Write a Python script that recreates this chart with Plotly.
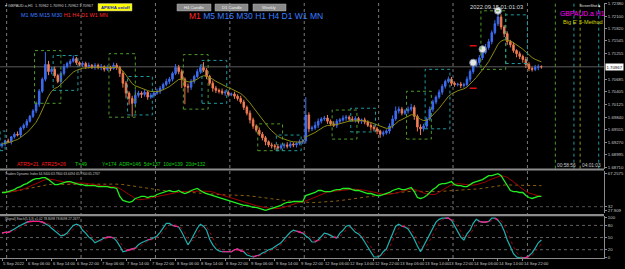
import plotly.graph_objects as go
import pandas as pd

# ---------------- data ----------------
time_labels = ["5 Sep 2022", "6 Sep 06:00", "6 Sep 14:00", "6 Sep 22:00", "7 Sep 06:00", "7 Sep 14:00",
               "7 Sep 22:00", "8 Sep 06:00", "8 Sep 14:00", "8 Sep 22:00", "9 Sep 06:00", "9 Sep 14:00",
               "9 Sep 22:00", "12 Sep 06:00", "12 Sep 14:00", "12 Sep 22:00", "13 Sep 06:00", "13 Sep 14:00",
               "13 Sep 22:00", "14 Sep 06:00", "14 Sep 14:00", "14 Sep 22:00"]
label_bars = [0, 8, 16, 24, 32, 40, 48, 56, 64, 72, 80, 88, 96, 104, 112, 120, 128, 136, 144, 152, 160, 168]
day_starts = [2, 26, 50, 74, 98, 122, 146, 170]

first_open = 1.6920
closes = [
    1.6924, 1.6931, 1.6929, 1.6940, 1.6946, 1.6944, 1.6960, 1.6966, 1.6975, 1.6986,
    1.6998, 1.7013, 1.7042, 1.7069, 1.7102, 1.7086, 1.7091, 1.7077, 1.7064, 1.7082,
    1.7097, 1.7104, 1.7109, 1.7115, 1.7106, 1.7102, 1.7104, 1.7097, 1.7100, 1.7095,
    1.7100, 1.7095, 1.7097, 1.7091, 1.7095, 1.7093, 1.7100, 1.7095, 1.7082, 1.7060,
    1.7038, 1.7026, 1.7015, 1.7033, 1.7038, 1.7035, 1.7040, 1.7029, 1.7033, 1.7038,
    1.7042, 1.7049, 1.7057, 1.7064, 1.7069, 1.7082, 1.7095, 1.7086, 1.7069, 1.7053,
    1.7051, 1.7064, 1.7075, 1.7086, 1.7095, 1.7089, 1.7075, 1.7060, 1.7049, 1.7044,
    1.7042, 1.7038, 1.7040, 1.7035, 1.7036, 1.7031, 1.7026, 1.7018, 1.7006, 1.6993,
    1.6978, 1.6964, 1.6955, 1.6946, 1.6938, 1.6929, 1.6922, 1.6920, 1.6918, 1.6915,
    1.6920, 1.6922, 1.6919, 1.6924, 1.6922, 1.6925, 1.6929, 1.6931, 1.6989, 1.6958,
    1.6960, 1.6966, 1.6975, 1.6980, 1.6982, 1.6975, 1.6969, 1.6966, 1.6975, 1.6978,
    1.6982, 1.6984, 1.6980, 1.6978, 1.6981, 1.6975, 1.6978, 1.6973, 1.6966, 1.6962,
    1.6958, 1.6953, 1.6946, 1.6949, 1.6953, 1.6964, 1.6980, 1.6998, 1.7002, 1.6993,
    1.6998, 1.7002, 1.7006, 1.6986, 1.6962, 1.6958, 1.6964, 1.6980, 1.7002, 1.7018,
    1.7029, 1.7040, 1.7053, 1.7064, 1.7069, 1.7060, 1.7057, 1.7058, 1.7055, 1.7057,
    1.7069, 1.7086, 1.7100, 1.7106, 1.7117, 1.7129, 1.7140, 1.7153, 1.7173, 1.7193,
    1.7208, 1.7186, 1.7171, 1.7153, 1.7146, 1.7133, 1.7126, 1.7120, 1.7113, 1.7102,
    1.7093, 1.7091, 1.7095, 1.7097, 1.70967,
]
# upper / lower wick lengths in pips
wick_up = [
    4, 3, 5, 2, 4, 6, 3, 4, 5, 3,
    4, 6, 5, 4, 28, 8, 5, 6, 4, 5,
    6, 4, 5, 7, 4, 3, 5, 4, 6, 3,
    5, 4, 6, 3, 5, 4, 6, 5, 4, 6,
    5, 4, 6, 12, 5, 4, 6, 3, 5, 4,
    6, 5, 4, 6, 5, 4, 8, 6, 5, 4,
    6, 5, 4, 6, 7, 12, 5, 4, 6, 5,
    4, 6, 5, 4, 3, 5, 4, 6, 5, 4,
    6, 5, 4, 6, 5, 4, 3, 5, 4, 6,
    5, 4, 6, 5, 4, 3, 5, 4, 40, 6,
    5, 8, 6, 4, 5, 7, 4, 6, 5, 4,
    6, 5, 4, 6, 5, 4, 3, 5, 4, 6,
    5, 4, 3, 5, 4, 6, 8, 10, 6, 5,
    4, 6, 8, 5, 4, 6, 5, 4, 6, 5,
    4, 6, 5, 4, 6, 5, 4, 3, 5, 4,
    6, 5, 6, 8, 6, 7, 8, 6, 5, 8,
    14, 6, 4, 5, 4, 6, 3, 5, 4, 6,
    5, 4, 6, 5, 3,
]
wick_dn = [
    5, 4, 3, 6, 4, 3, 5, 4, 6, 3,
    4, 5, 6, 4, 5, 8, 6, 5, 4, 6,
    5, 4, 6, 3, 5, 4, 6, 5, 4, 3,
    5, 4, 6, 5, 4, 6, 3, 5, 8, 10,
    12, 14, 30, 6, 5, 8, 5, 6, 4, 5,
    4, 6, 5, 4, 6, 5, 4, 6, 20, 40,
    12, 6, 5, 4, 5, 4, 6, 5, 8, 6,
    5, 4, 6, 5, 4, 6, 5, 4, 6, 5,
    8, 6, 5, 4, 6, 8, 5, 6, 7, 5,
    4, 6, 5, 4, 5, 6, 4, 5, 6, 8,
    5, 4, 6, 5, 4, 6, 5, 4, 6, 5,
    4, 6, 5, 4, 6, 5, 6, 5, 4, 8,
    6, 7, 8, 5, 4, 6, 5, 4, 6, 5,
    4, 6, 5, 8, 10, 14, 6, 5, 4, 6,
    5, 4, 6, 5, 4, 6, 5, 4, 6, 5,
    4, 6, 5, 4, 6, 5, 4, 5, 6, 4,
    5, 6, 8, 7, 6, 5, 8, 6, 7, 8,
    6, 5, 4, 6, 4,
]

tdi_rsi = [
    47.0, 47.0, 48.0, 49.1, 50.1, 52.2, 53.2, 55.3, 56.4, 58.5,
    60.6, 61.6, 61.6, 62.7, 62.7, 60.6, 57.4, 55.3, 55.3, 56.4,
    57.4, 58.5, 58.5, 57.4, 56.4, 55.3, 55.3, 54.3, 54.3, 54.3,
    54.3, 53.2, 53.2, 53.2, 53.2, 52.2, 52.2, 51.2, 42.8, 38.6,
    37.5, 36.5, 37.5, 40.7, 41.7, 42.8, 42.8, 41.7, 42.8, 42.8,
    44.9, 45.9, 47.0, 48.0, 49.1, 48.0, 48.0, 49.1, 47.0, 45.9,
    47.0, 49.1, 50.1, 51.2, 49.1, 47.0, 45.9, 44.9, 43.8, 42.8,
    41.7, 40.7, 39.6, 38.6, 37.5, 36.5, 35.4, 34.4, 33.4, 33.4,
    32.3, 31.3, 31.3, 30.2, 29.2, 28.1, 29.2, 30.2, 31.3, 32.3,
    33.4, 35.4, 36.5, 36.5, 37.5, 37.5, 37.5, 37.5, 43.8, 44.9,
    45.9, 47.0, 49.1, 49.1, 48.0, 48.0, 48.0, 49.1, 50.1, 50.1,
    51.2, 51.2, 51.2, 50.1, 49.1, 49.1, 48.0, 47.0, 45.9, 45.9,
    44.9, 43.8, 43.8, 44.9, 45.9, 47.0, 49.1, 50.1, 51.2, 50.1,
    50.1, 51.2, 52.2, 48.0, 41.7, 40.7, 41.7, 43.8, 47.0, 50.1,
    52.2, 55.3, 56.4, 56.4, 57.4, 58.5, 55.3, 54.3, 54.3, 53.2,
    53.2, 55.3, 57.4, 58.5, 59.5, 60.6, 62.7, 64.8, 64.8, 65.8,
    66.9, 64.8, 59.5, 54.3, 49.1, 48.0, 48.0, 47.0, 47.0, 43.8,
    41.7, 40.7, 41.7, 42.8, 42.8,
]

stoch_k = [
    61, 63, 63, 66, 71, 76, 80, 85, 88, 90,
    90, 90, 90, 88, 85, 80, 73, 66, 59, 54,
    56, 61, 71, 80, 83, 80, 68, 61, 51, 46,
    37, 41, 46, 49, 51, 51, 49, 41, 29, 15,
    17, 20, 22, 24, 32, 37, 41, 44, 46, 51,
    54, 63, 73, 85, 85, 80, 78, 76, 63, 46,
    32, 44, 59, 73, 83, 78, 68, 46, 32, 22,
    17, 15, 15, 15, 15, 20, 22, 17, 15, 7,
    5, 2, 5, 7, 12, 15, 20, 22, 27, 32,
    37, 46, 56, 63, 68, 66, 63, 61, 54, 49,
    39, 39, 44, 54, 61, 59, 54, 51, 49, 61,
    68, 78, 80, 71, 63, 59, 51, 39, 27, 15,
    2, 2, 5, 15, 22, 41, 61, 78, 83, 78,
    76, 71, 59, 46, 29, 15, 29, 44, 56, 71,
    88, 95, 98, 98, 98, 93, 78, 63, 51, 44,
    59, 68, 85, 95, 90, 88, 88, 90, 98, 98,
    93, 83, 66, 44, 27, 10, 2, 0, 0, 0,
    5, 12, 24, 37, 44,
]

price_ticks = [1.72380, 1.72100, 1.71820, 1.71545, 1.71255, 1.70685, 1.70405,
               1.70125, 1.69840, 1.69555, 1.69270, 1.68995, 1.68710]
last_price = 1.70967
tdi_ticks = [67.2575, 32.0, 27.909]
tdi_level = 32.0
stoch_ticks = [100, 80, 50, 20, 0]
stoch_levels = [80, 50, 20]

# session boxes (bar index range, price range)
london_start = [10.5, 34.5, 58.5, 82.5, 106.5, 130.5, 154.5]
london_end = [19.0, 43.0, 66.5, 90.5, 114.5, 138.5, 162.5]
london_high = [1.7133, 1.7126, 1.7124, 1.6969, 1.7000, 1.7042, 1.7222]
london_low = [1.7015, 1.6984, 1.7002, 1.6909, 1.6935, 1.6935, 1.7091]
ny_start = [-0.6, 16.5, 40.5, 64.5, 88.5, 112.5, 136.5, 162.5]
ny_end = [1.0, 24.5, 48.5, 72.5, 96.5, 120.5, 144.5, 169.5]
ny_high = [1.6953, 1.7122, 1.7075, 1.7111, 1.6944, 1.7004, 1.7091, 1.7213]
ny_low = [1.6909, 1.7044, 1.6989, 1.7015, 1.6909, 1.6951, 1.6958, 1.7104]
next_session_bars = [178.5, 184.5, 186.5, 192.5]
next_session_colors = ["#4f9a2a", "#1f9aa0", "#9a9a10", "#1f9aa0"]

peak_bars = [152, 155, 160]
signal_bars = [152, 152]
signal_prices = [1.7144, 1.7049]

# ---------------- geometry ----------------
W, H = 625, 269
ML, MR, MT, MB = 0, 21, 0, 11
PW, PH = W - ML - MR, H - MT - MB
FONT = "Liberation Sans"
XR = [-0.645, 194.2]


def fx(x):
    return x / PW


def fy(y):
    return 1 - y / PH


# ---------------- derived series ----------------
n = len(closes)
bars = list(range(n))
opens = [first_open] + closes[:-1]
highs = [max(o, c) + u * 0.0001 for o, c, u in zip(opens, closes, wick_up)]
lows = [min(o, c) - d * 0.0001 for o, c, d in zip(opens, closes, wick_dn)]
ma = pd.Series(closes).ewm(span=10, adjust=False).mean().tolist()
tdi_s = pd.Series(tdi_rsi)
tdi_sig = tdi_s.rolling(7, min_periods=1).mean().tolist()
tdi_base = tdi_s.rolling(34, min_periods=1).mean().tolist()
k_s = pd.Series(stoch_k, dtype=float)
stoch_d = k_s.rolling(3, min_periods=1).mean().tolist()
pink = [k if abs(k - d) < 4 else None for k, d in zip(stoch_k, stoch_d)]

fig = go.Figure()

fig.add_trace(go.Candlestick(
    x=bars, open=opens, high=highs, low=lows, close=closes,
    increasing=dict(line=dict(color="#3d6cf0", width=1), fillcolor="#3d6cf0"),
    decreasing=dict(line=dict(color="#f07a50", width=1), fillcolor="#f58a62"),
    whiskerwidth=0, showlegend=False, hoverinfo="skip", xaxis="x", yaxis="y"))
fig.add_trace(go.Scatter(x=bars, y=ma, mode="lines", line=dict(color="#8c8a10", width=1),
                         showlegend=False, hoverinfo="skip", xaxis="x", yaxis="y"))
fig.add_trace(go.Scatter(x=peak_bars, y=[highs[i] for i in peak_bars], mode="markers",
                         marker=dict(symbol="circle", size=7, color="#e6e6e6",
                                     line=dict(color="#7a8aa0", width=1)),
                         showlegend=False, hoverinfo="skip", xaxis="x", yaxis="y"))
fig.add_trace(go.Scatter(x=signal_bars, y=signal_prices, mode="markers",
                         marker=dict(symbol="line-ew", size=5, line=dict(color="#e01010", width=1.5)),
                         showlegend=False, hoverinfo="skip", xaxis="x", yaxis="y"))

# TDI
fig.add_trace(go.Scatter(x=bars, y=tdi_base, mode="lines", line=dict(color="#8a6010", width=1, dash="dot"),
                         showlegend=False, hoverinfo="skip", xaxis="x2", yaxis="y2"))
fig.add_trace(go.Scatter(x=bars, y=tdi_sig, mode="lines", line=dict(color="#a00000", width=1),
                         showlegend=False, hoverinfo="skip", xaxis="x2", yaxis="y2"))
fig.add_trace(go.Scatter(x=bars, y=tdi_rsi, mode="lines", line=dict(color="#22ee22", width=1.3),
                         showlegend=False, hoverinfo="skip", xaxis="x2", yaxis="y2"))

# Stochastic
fig.add_trace(go.Scatter(x=bars, y=stoch_d, mode="lines", line=dict(color="#9a0010", width=1, dash="dot"),
                         showlegend=False, hoverinfo="skip", xaxis="x3", yaxis="y3"))
fig.add_trace(go.Scatter(x=bars, y=stoch_k, mode="lines", line=dict(color="#20b0b0", width=1.2),
                         showlegend=False, hoverinfo="skip", xaxis="x3", yaxis="y3"))
fig.add_trace(go.Scatter(x=bars, y=pink, mode="lines", line=dict(color="#ff1a8c", width=1.2),
                         connectgaps=False, showlegend=False, hoverinfo="skip", xaxis="x3", yaxis="y3"))

shapes = []
for d in day_starts:
    shapes.append(dict(type="line", xref="x", yref="paper", x0=d - 0.5, x1=d - 0.5, y0=0, y1=1,
                       line=dict(color="#7a7a7a", width=1, dash="dot"), layer="below"))
for s, e, hi, lo in zip(london_start, london_end, london_high, london_low):
    shapes.append(dict(type="rect", xref="x", yref="y", x0=s, x1=e, y0=lo, y1=hi,
                       line=dict(color="#4f9a2a", width=1, dash="dot")))
for s, e, hi, lo in zip(ny_start, ny_end, ny_high, ny_low):
    shapes.append(dict(type="rect", xref="x", yref="y", x0=s, x1=e, y0=lo, y1=hi,
                       line=dict(color="#1f9aa0", width=1, dash="dot")))
for b, c in zip(next_session_bars, next_session_colors):
    shapes.append(dict(type="line", xref="x", yref="paper", x0=b, x1=b, y0=fy(168), y1=1,
                       line=dict(color=c, width=1, dash="dot")))
shapes.append(dict(type="line", xref="paper", yref="y", x0=0, x1=1, y0=last_price, y1=last_price,
                   line=dict(color="#5a5a5a", width=1), layer="below"))
shapes.append(dict(type="line", xref="paper", yref="y2", x0=0, x1=1, y0=tdi_level, y1=tdi_level,
                   line=dict(color="#505050", width=1, dash="dot"), layer="below"))
for lv in stoch_levels:
    shapes.append(dict(type="line", xref="paper", yref="y3", x0=0, x1=1, y0=lv, y1=lv,
                       line=dict(color="#606060", width=1, dash="dot"), layer="below"))
# panel separators
for y0, y1 in [(167.8, 169.8), (213.6, 216.0)]:
    shapes.append(dict(type="rect", xref="paper", yref="paper", x0=0, x1=1, y0=fy(y1), y1=fy(y0),
                       fillcolor="#8c8c8c", line=dict(width=0)))

annotations = []


def txt(x, y, s, size, color, anchor="left", **kw):
    annotations.append(dict(xref="paper", yref="paper", x=fx(x), y=fy(y), text=s, showarrow=False,
                            xanchor=anchor, yanchor="middle", font=dict(size=size, color=color, family=FONT),
                            **kw))


def button(x0, y0, x1, y1, label, fill, color, size):
    shapes.append(dict(type="rect", xref="paper", yref="paper", x0=fx(x0), x1=fx(x1), y0=fy(y1), y1=fy(y0),
                       fillcolor=fill, line=dict(color="#b0b0b0", width=0.5)))
    txt((x0 + x1) / 2, (y0 + y1) / 2, label, size, color, anchor="center")


button(177, 2, 211, 9, "H4 Candle", "#8a8a8a", "#f0f0f0", 4.2)
button(215, 2, 248, 9, "D1 Candle", "#8a8a8a", "#f0f0f0", 4.2)
button(253, 2, 286, 9, "Weekly", "#8a8a8a", "#f0f0f0", 4.2)
button(98, 1.5, 132, 9, "<b>AP8/HA on/off</b>", "#ffff00", "#1020c0", 4.3)

txt(3, 4.5, "▾ GBPAUD.a,H1  1.70962 1.70990 1.70962 1.70967", 3.8, "#cfcfcf")
txt(19, 13.5, '<span style="color:#3a7dff">M1 M5 M15 M30</span> '
              '<span style="color:#ff2a2a">H1 H4 D1 W1 MN</span>', 5.5, "#3a7dff")
txt(187, 14, '<span style="color:#ff2a2a">M1</span> '
             '<span style="color:#3a7dff">M5 M15 M30 H1 H4 D1 W1 MN</span>', 8.5, "#3a7dff")
txt(468, 5, "2022.09.15 01:01:03", 5.8, "#dcdcdc")
txt(578, 4, "ScreenShot ◆", 3.3, "#e0e0e0")
txt(558, 12, "GBPAUD.a H1", 6.8, "#ff00ff")
txt(561, 20.5, "Big E' 5-Method", 5.6, "#d4d400")
txt(15, 163.5, "ATR5=21  ATR25=26", 5.2, "#ff1a1a")
txt(73, 163.5, "T=49", 5.2, "#10d010")
txt(100, 163.5, "Y=174  ADR=146  5d=137  10d=139  20d=132", 5.0, "#10d010")
txt(555, 164.5, "00:58:56", 4.8, "#c8c8c8")
txt(580, 164.5, "04:01:03", 4.8, "#c8c8c8")
txt(3, 173, "Traders Dynamic Index 64.9400 63.7800 63.6494 65.7900 65.2767", 3.2, "#c8c8c8")
txt(3, 219, "[Signal] Stoch(5,3,3) v1.02 78.8098 78.8098 27.2677", 3.2, "#c8c8c8")

# current price box on the right axis
annotations.append(dict(xref="paper", yref="y", x=fx(605), y=last_price, text="1.70967", showarrow=False,
                        xanchor="left", yanchor="middle", bgcolor="#ffffff", borderpad=0.5,
                        font=dict(size=4.3, color="#000000", family=FONT)))
# time labels under the bottom pane
for b, t in zip(label_bars, time_labels):
    annotations.append(dict(xref="x3", yref="paper", x=b - 0.3, y=fy(259), text=t, showarrow=False,
                            xanchor="left", yanchor="top", font=dict(size=4.1, color="#c8c8c8", family=FONT)))

axis_common = dict(showgrid=False, zeroline=False)
yfont = dict(size=4.3, color="#c8c8c8", family=FONT)

fig.update_layout(
    width=W, height=H, margin=dict(l=ML, r=MR, t=MT, b=MB),
    paper_bgcolor="#000000", plot_bgcolor="#000000", hovermode=False, showlegend=False,
    xaxis=dict(domain=[0, 1], range=XR, anchor="y", showticklabels=False, rangeslider=dict(visible=False),
               **axis_common),
    xaxis2=dict(domain=[0, 1], range=XR, anchor="y2", showticklabels=False, matches="x", **axis_common),
    xaxis3=dict(domain=[0, 1], range=XR, anchor="y3", showticklabels=False, matches="x",
                showline=True, linecolor="#8a8a8a", linewidth=1, ticks="outside", ticklen=2,
                tickcolor="#8a8a8a", tickvals=label_bars, **axis_common),
    yaxis=dict(domain=[fy(168), fy(1)], range=[1.72417 - 0.000222 * 168, 1.72417 - 0.000222 * 1],
               anchor="x", side="right", tickvals=price_ticks, ticktext=[f"{v:.5f}" for v in price_ticks],
               tickfont=yfont, showline=True, linecolor="#8a8a8a", linewidth=1, ticks="outside",
               ticklen=2, tickcolor="#8a8a8a", **axis_common),
    yaxis2=dict(domain=[fy(213), fy(170)], range=[70 - 1.047 * 43, 70], anchor="x2", side="right",
                tickvals=tdi_ticks, ticktext=["67.2575", "32", "27.909"], tickfont=yfont,
                showline=True, linecolor="#8a8a8a", linewidth=1, ticks="outside", ticklen=2,
                tickcolor="#8a8a8a", **axis_common),
    yaxis3=dict(domain=[0, fy(216)], range=[-0.5, 102.4], anchor="x3", side="right",
                tickvals=stoch_ticks, ticktext=[str(v) for v in stoch_ticks], tickfont=yfont,
                showline=True, linecolor="#8a8a8a", linewidth=1, ticks="outside", ticklen=2,
                tickcolor="#8a8a8a", **axis_common),
    shapes=shapes, annotations=annotations,
)

fig.write_html("out.html")
